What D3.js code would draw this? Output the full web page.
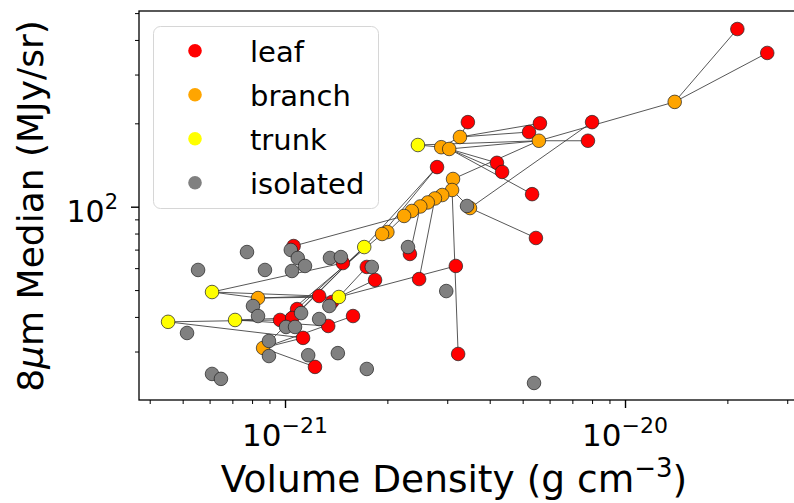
<!DOCTYPE html>
<html>
<head>
<meta charset="utf-8">
<script src="https://cdn.jsdelivr.net/npm/d3@7"></script>
<style>
    body { margin: 0; background: #fff; }
    svg { font-family: "DejaVu Sans", sans-serif; }
</style>
</head>
<body>
<div id="chart"></div>
<script>
// Volume density (g cm^-3) vs 8um median (MJy/sr)
const leaf = [
    [2.14e-20, 438], [2.62e-20, 359], [8.0e-21, 202], [7.78e-21, 173], [5.62e-21, 200],
    [5.22e-21, 186], [3.45e-21, 202], [2.80e-21, 139], [4.20e-21, 144], [4.35e-21, 133.5],
    [5.33e-21, 111], [5.47e-21, 77.1], [2.33e-21, 67.5], [2.48e-21, 54.8], [3.18e-21, 61.1],
    [3.23e-21, 29.4], [1.06e-21, 72.1], [1.48e-21, 62.6], [1.74e-21, 60.6], [1.84e-21, 54.4],
    [1.26e-21, 47.6], [1.375e-21, 45.3], [1.085e-21, 42.7], [9.67e-22, 39.0], [1.05e-21, 39.65],
    [1.34e-21, 37.1], [1.585e-21, 40.3], [1.13e-21, 33.6], [1.225e-21, 26.4]
];
const branch = [
    [1.40e-20, 239], [5.58e-21, 173], [3.27e-21, 178.5], [2.88e-21, 164], [3.04e-21, 161.6],
    [3.12e-21, 125.9], [3.10e-21, 114.9], [2.90e-21, 110.2], [2.76e-21, 107.1], [2.63e-21, 103.6],
    [2.50e-21, 100.2], [2.36e-21, 96.5], [2.24e-21, 92.6], [2.0e-21, 81.0], [1.93e-21, 79.7],
    [8.33e-22, 46.8], [8.62e-22, 30.9], [3.50e-21, 98.9]
];
const trunk = [
    [2.46e-21, 167], [1.71e-21, 71.5], [6.10e-22, 49.2], [1.44e-21, 47.2], [4.53e-22, 38.4],
    [7.13e-22, 39.0]
];
const isolated = [
    [3.43e-21, 100.6], [2.30e-21, 71.5], [2.98e-21, 49.6], [5.40e-21, 23.1], [7.73e-22, 68.6],
    [5.55e-22, 59.1], [8.73e-22, 59.1], [1.04e-21, 69.8], [1.09e-21, 65.3], [1.145e-21, 61.1],
    [1.048e-21, 58.6], [1.356e-21, 65.3], [1.46e-21, 65.8], [1.80e-21, 60.6], [8.05e-22, 43.8],
    [8.33e-22, 40.3], [5.15e-22, 35.0], [1.115e-21, 41.3], [1.007e-21, 36.8], [1.07e-21, 36.8],
    [1.26e-21, 39.3], [1.35e-21, 43.8], [8.97e-22, 32.75], [8.97e-22, 28.9], [1.17e-21, 29.1],
    [1.43e-21, 29.6], [1.74e-21, 25.95], [6.10e-22, 24.9], [6.48e-22, 23.9]
];
// parent/child links (L = leaf, B = branch, T = trunk, 1-based)
const links = [
    ["B1", "L1"], ["B1", "L2"], ["B1", "B2"], ["B2", "L4"], ["T1", "B2"], ["B5", "B2"],
    ["B3", "L5"], ["B3", "L6"], ["B3", "L7"], ["T1", "B4"], ["B4", "B3"], ["B5", "L9"],
    ["B5", "L10"], ["B5", "L11"], ["B2", "B6"], ["B6", "B7"], ["B7", "L16"], ["B7", "B8"],
    ["B8", "B9"], ["B9", "B10"], ["B10", "B11"], ["B11", "B12"], ["B12", "B13"], ["B13", "B14"],
    ["B14", "B15"], ["B7", "B18"], ["B18", "L3"], ["B18", "L12"], ["B13", "L17"], ["B9", "L14"],
    ["B11", "L13"], ["T2", "L8"], ["B15", "L8"], ["T2", "L25"], ["T2", "L23"], ["T2", "B17"],
    ["B15", "L24"], ["B17", "L28"], ["B17", "L29"], ["B17", "L27"], ["T3", "B16"], ["T3", "L21"],
    ["T3", "L18"], ["B16", "L21"], ["T4", "B16"], ["T4", "L15"], ["T4", "L20"], ["T4", "L19"],
    ["T5", "L24"], ["T5", "L28"], ["T6", "L25"], ["T6", "L26"]
];
const legendLabels = ["leaf", "branch", "trunk", "isolated"];
const xMajor = [1e-21, 1e-20];
const xMajorExp = ["\u221221", "\u221220"];
const xMinor = [4e-22, 5e-22, 6e-22, 7e-22, 8e-22, 9e-22, 2e-21, 3e-21, 4e-21, 5e-21, 6e-21,
    7e-21, 8e-21, 9e-21, 2e-20, 3e-20];
const yMajor = [100];
const yMajorExp = ["2"];
const yMinor = [30, 40, 50, 60, 70, 80, 90, 200, 300, 400, 500];

const colors = { leaf: "#ff0000", branch: "#ffa500", trunk: "#ffff00", isolated: "#808080" };

const W = 794, H = 503;
const margin = { top: 11, right: -1, bottom: 103, left: 139 };

const svg = d3.select("#chart").append("svg")
    .attr("width", W)
    .attr("height", H);

const x = d3.scaleLog()
    .domain([3.72e-22, 3.162e-20])
    .range([margin.left, W - margin.right]);
const y = d3.scaleLog()
    .domain([20.05, 508.8])
    .range([H - margin.bottom, margin.top]);

// lookup for links
const nodes = {};
leaf.forEach((d, i) => nodes["L" + (i + 1)] = d);
branch.forEach((d, i) => nodes["B" + (i + 1)] = d);
trunk.forEach((d, i) => nodes["T" + (i + 1)] = d);

const plot = svg.append("g");

plot.selectAll("line.link")
    .data(links)
    .enter()
    .append("line")
    .attr("class", "link")
    .attr("x1", d => x(nodes[d[0]][0]))
    .attr("y1", d => y(nodes[d[0]][1]))
    .attr("x2", d => x(nodes[d[1]][0]))
    .attr("y2", d => y(nodes[d[1]][1]))
    .attr("stroke", "#3a3a3a")
    .attr("stroke-width", 1)
    .attr("stroke-opacity", 0.85);

const groups = [
    ["leaf", leaf], ["branch", branch], ["trunk", trunk], ["isolated", isolated]
];
groups.forEach(([name, pts]) => {
    plot.append("g")
        .selectAll("circle")
        .data(pts)
        .enter()
        .append("circle")
        .attr("cx", d => x(d[0]))
        .attr("cy", d => y(d[1]))
        .attr("r", 6.8)
        .attr("fill", colors[name])
        .attr("stroke", "#222")
        .attr("stroke-opacity", 0.8)
        .attr("stroke-width", 0.9);
});

// axes
const bottom = H - margin.bottom;
svg.append("g")
    .attr("transform", `translate(0,${bottom})`)
    .call(d3.axisBottom(x).tickValues(xMinor).tickSize(4).tickFormat(""))
    .call(g => g.select(".domain").remove())
    .call(g => g.selectAll("line").attr("stroke-width", 1));
svg.append("g")
    .attr("transform", `translate(0,${bottom})`)
    .call(d3.axisBottom(x).tickValues(xMajor).tickSize(8).tickFormat(""))
    .call(g => g.select(".domain").remove())
    .call(g => g.selectAll("line").attr("stroke-width", 1.4));
svg.append("g")
    .attr("transform", `translate(${margin.left},0)`)
    .call(d3.axisLeft(y).tickValues(yMinor).tickSize(4).tickFormat(""))
    .call(g => g.select(".domain").remove())
    .call(g => g.selectAll("line").attr("stroke-width", 1));
svg.append("g")
    .attr("transform", `translate(${margin.left},0)`)
    .call(d3.axisLeft(y).tickValues(yMajor).tickSize(8).tickFormat(""))
    .call(g => g.select(".domain").remove())
    .call(g => g.selectAll("line").attr("stroke-width", 1.4));

// spines
svg.append("rect")
    .attr("x", margin.left)
    .attr("y", margin.top)
    .attr("width", W - margin.right - margin.left)
    .attr("height", bottom - margin.top)
    .attr("fill", "none")
    .attr("stroke", "#000")
    .attr("stroke-width", 1.3);

// tick labels
xMajor.forEach((v, i) => {
    const t = svg.append("text")
        .attr("x", x(v))
        .attr("y", 446)
        .attr("text-anchor", "middle")
        .style("font-size", "31px")
        .attr("fill", "#000");
    t.append("tspan").text("10");
    t.append("tspan").attr("dy", -13).style("font-size", "22px").text(xMajorExp[i]);
});
yMajor.forEach((v, i) => {
    const t = svg.append("text")
        .attr("x", 118)
        .attr("y", y(v) + 15)
        .attr("text-anchor", "end")
        .style("font-size", "30px")
        .attr("fill", "#000");
    t.append("tspan").text("10");
    t.append("tspan").attr("dy", -13).style("font-size", "21px").text(yMajorExp[i]);
});

// axis labels
const xl = svg.append("text")
    .attr("x", 454)
    .attr("y", 492)
    .attr("text-anchor", "middle")
    .style("font-size", "37.5px")
    .attr("fill", "#000");
xl.append("tspan").text("Volume Density (g cm");
xl.append("tspan").attr("dy", -15).style("font-size", "26px").text("\u22123");
xl.append("tspan").attr("dy", 15).text(")");

const yl = svg.append("text")
    .attr("transform", "translate(43,206) rotate(-90)")
    .attr("text-anchor", "middle")
    .style("font-size", "36px")
    .attr("fill", "#000");
yl.append("tspan").text("8");
yl.append("tspan").style("font-style", "italic").text("\u03bc");
yl.append("tspan").text("m Median (MJy/sr)");

// legend
const legend = svg.append("g").attr("class", "legend");
legend.append("rect")
    .attr("x", 153.5)
    .attr("y", 26.5)
    .attr("width", 225)
    .attr("height", 182)
    .attr("rx", 7)
    .attr("fill", "#fff")
    .attr("fill-opacity", 0.85)
    .attr("stroke", "#d6d6d6")
    .attr("stroke-width", 1);

legendLabels.forEach((label, i) => {
    const cy = 50.7 + i * 44;
    legend.append("circle")
        .attr("cx", 195)
        .attr("cy", cy)
        .attr("r", 6.8)
        .attr("fill", colors[label]);
    legend.append("text")
        .attr("x", 250)
        .attr("y", cy + 11)
        .style("font-size", "29px")
        .attr("fill", "#000")
        .text(label);
});
</script>
</body>
</html>
